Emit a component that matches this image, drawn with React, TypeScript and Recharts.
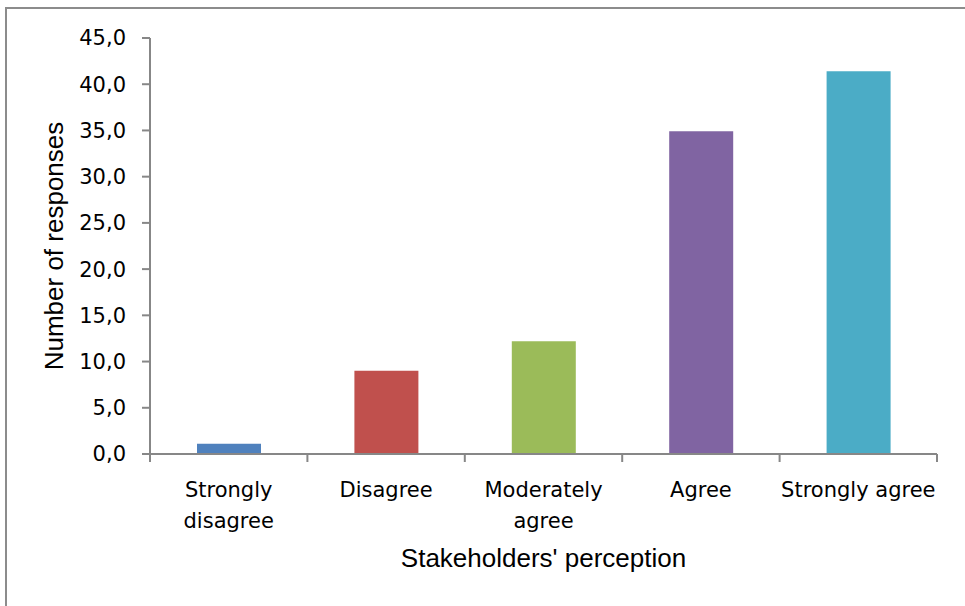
import { BarChart, Bar, XAxis, YAxis, Cell, Label } from "recharts";

// Survey answers, one bar per category
const categories = [
  "Strongly disagree",
  "Disagree",
  "Moderately agree",
  "Agree",
  "Strongly agree",
];
const categoryLines = [
  ["Strongly", "disagree"],
  ["Disagree"],
  ["Moderately", "agree"],
  ["Agree"],
  ["Strongly agree"],
];
const responses = [1.1, 9.0, 12.2, 34.9, 41.4];
const barColors = ["#4F81BD", "#C0504D", "#9BBB59", "#8064A2", "#4BACC6"];
const yTicks = [0, 5, 10, 15, 20, 25, 30, 35, 40, 45];

const chartData = categories.map((name, i) => ({
  name,
  value: responses[i],
}));

const AXIS_GREY = "#878787";
const TICK_FONT = "'DejaVu Sans', sans-serif";
const TITLE_FONT = "'Liberation Sans', Arial, sans-serif";

const WIDTH = 965;
const HEIGHT = 606;
const MARGIN = { top: 38, right: 28, bottom: 0, left: 0 };
const X_AXIS_HEIGHT = 152;
const Y_AXIS_WIDTH = 150;

// Category ticks sit on the band edges, labels under the band centre
function CategoryTick(props: any) {
  const { x, payload, index } = props;
  const plotWidth = WIDTH - MARGIN.right - MARGIN.left - Y_AXIS_WIDTH;
  const half =
    payload && typeof payload.offset === "number" && payload.offset > 0
      ? payload.offset
      : plotWidth / categories.length / 2;
  const lines: string[] = categoryLines[index] ?? [String(payload.value)];
  const axisY = HEIGHT - MARGIN.bottom - X_AXIS_HEIGHT;
  return (
    <g>
      <line x1={x - half} x2={x - half} y1={axisY} y2={axisY + 8} stroke={AXIS_GREY} strokeWidth={2} />
      {index === categories.length - 1 && (
        <line x1={x + half} x2={x + half} y1={axisY} y2={axisY + 8} stroke={AXIS_GREY} strokeWidth={2} />
      )}
      <text x={x} y={axisY + 43} textAnchor="middle" fontFamily={TICK_FONT} fontSize={21} fill="#000">
        {lines.map((line, i) => (
          <tspan key={i} x={x} dy={i === 0 ? 0 : 31}>
            {line}
          </tspan>
        ))}
      </text>
    </g>
  );
}

export default function App() {
  return (
    <div style={{ position: "fixed", left: 0, top: 0, width: WIDTH, height: HEIGHT, background: "#fff" }}>
      <div
        style={{
          position: "fixed",
          left: 5,
          top: 7,
          right: -10,
          bottom: -10,
          borderLeft: "2px solid #8c8c8c",
          borderTop: "2px solid #8c8c8c",
        }}
      />
      <BarChart width={WIDTH} height={HEIGHT} data={chartData} margin={MARGIN} barSize={64}>
        <XAxis
          dataKey="name"
          interval={0}
          axisLine={{ stroke: AXIS_GREY, strokeWidth: 2 }}
          tickLine={false}
          tick={<CategoryTick />}
          height={X_AXIS_HEIGHT}
        >
          <Label
            value="Stakeholders' perception"
            position="insideTop"
            offset={95}
            style={{ fontFamily: TITLE_FONT, fontSize: 26, fill: "#000" }}
          />
        </XAxis>
        <YAxis
          width={Y_AXIS_WIDTH}
          domain={[0, 45]}
          ticks={yTicks}
          interval={0}
          axisLine={{ stroke: AXIS_GREY, strokeWidth: 2 }}
          tickLine={{ stroke: AXIS_GREY, strokeWidth: 2 }}
          tickSize={8}
          tickMargin={16}
          tick={{ fontFamily: TICK_FONT, fontSize: 21, fill: "#000" }}
          tickFormatter={(v: number) => v.toFixed(1).replace(".", ",")}
        >
          <Label
            value="Number of responses"
            angle={-90}
            position="insideLeft"
            offset={54}
            style={{ fontFamily: TITLE_FONT, fontSize: 26, fill: "#000", textAnchor: "middle" }}
          />
        </YAxis>
        <Bar dataKey="value" isAnimationActive={false}>
          {chartData.map((d, i) => (
            <Cell key={d.name} fill={barColors[i]} />
          ))}
        </Bar>
      </BarChart>
    </div>
  );
}
